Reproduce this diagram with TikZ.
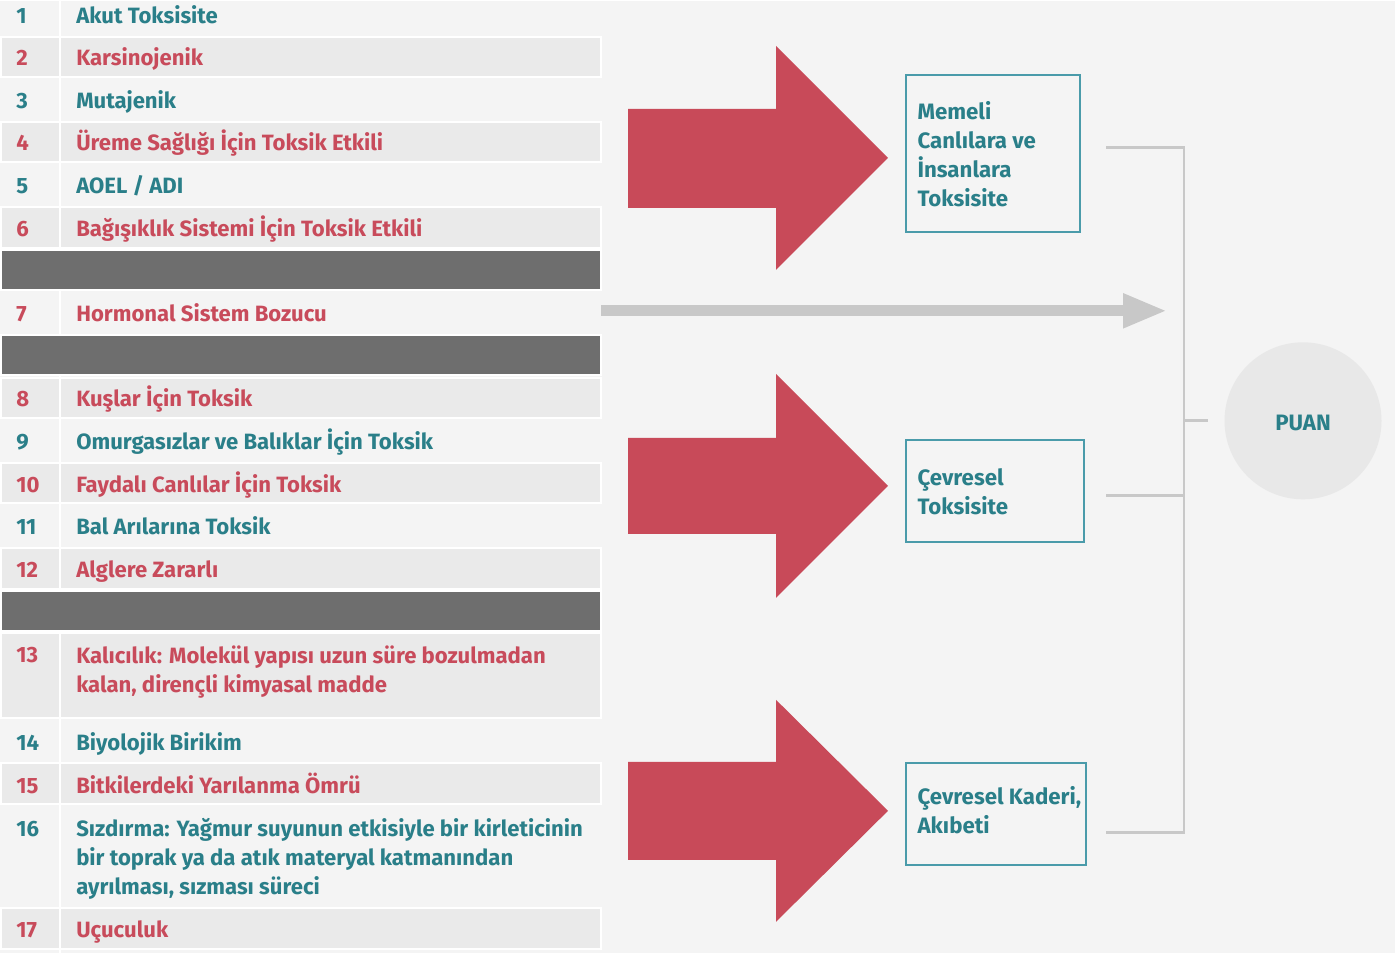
\documentclass[tikz,border=0pt]{standalone}
\usepackage{fontspec}
\usetikzlibrary{arrows.meta,positioning}
\newfontfamily\listfont{Fira Sans}
\definecolor{paper}{HTML}{F4F4F4}
\definecolor{rowgrey}{HTML}{EAEAEA}
\definecolor{rowdark}{HTML}{6E6E6E}
\definecolor{tealtxt}{HTML}{2A7F89}
\definecolor{redtxt}{HTML}{C84B5B}
\definecolor{arrowred}{HTML}{C84A59}
\definecolor{boxline}{HTML}{4A9BAA}
\definecolor{linegrey}{HTML}{C8C8C8}
\definecolor{puangrey}{HTML}{E8E8E8}
\tikzset{
  num/.style={anchor=base west, inner sep=0pt, font=\listfont\bfseries\fontsize{16.6}{21.75}\selectfont},
  item/.style={anchor=base west, inner sep=0pt, align=left, font=\listfont\bfseries\fontsize{16.6}{21.75}\selectfont},
  lightrow/.style={fill=rowgrey, draw=white, line width=1.5pt},
  darkrow/.style={fill=rowdark, draw=white, line width=1.5pt},
  redarrow/.style={fill=arrowred},
  scorebox/.style={draw=boxline, line width=1.1pt, rectangle, inner sep=0pt},
  boxtext/.style={anchor=west, inner sep=0pt, align=left, text=tealtxt, font=\listfont\bfseries\fontsize{16.7}{21.75}\selectfont},
  bracket/.style={draw=linegrey, line width=2.2pt}
}
\begin{document}
\begin{tikzpicture}[x=0.75pt,y=0.75pt,yscale=-1,xscale=1]
%set diagram size
\fill[paper] (0,0) rectangle (1395,952);

%Shape: Rectangle rows
\filldraw[lightrow] (1,36) rectangle (601,76);
\filldraw[lightrow] (1,121) rectangle (601,161);
\filldraw[lightrow] (1,206) rectangle (601,247);
\filldraw[lightrow] (1,377) rectangle (601,417);
\filldraw[lightrow] (1,462) rectangle (601,502);
\filldraw[lightrow] (1,547) rectangle (601,588);
\filldraw[lightrow] (1,632) rectangle (601,717);
\filldraw[lightrow] (1,762) rectangle (601,803);
\filldraw[lightrow] (1,907) rectangle (601,948);
%Straight Lines column
\draw[white, line width=1.2pt] (60,0) -- (60,952);
%Shape: Rectangle separators
\filldraw[darkrow] (1,249) rectangle (601,289);
\filldraw[darkrow] (1,334) rectangle (601,374);
\filldraw[darkrow] (1,590) rectangle (601,630);

% Text Node
\node[num, text=tealtxt] (n1) at (16,23) {1};
\node[item, text=tealtxt] (t1) at (76,23) {Akut Toksisite};
\node[num, text=redtxt] (n2) at (16,65) {2};
\node[item, text=redtxt] (t2) at (76,65) {Karsinojenik};
\node[num, text=tealtxt] (n3) at (16,108) {3};
\node[item, text=tealtxt] (t3) at (76,108) {Mutajenik};
\node[num, text=redtxt] (n4) at (16,150) {4};
\node[item, text=redtxt] (t4) at (76,150) {Üreme Sağlığı İçin Toksik Etkili};
\node[num, text=tealtxt] (n5) at (16,193) {5};
\node[item, text=tealtxt] (t5) at (76,193) {AOEL / ADI};
\node[num, text=redtxt] (n6) at (16,236) {6};
\node[item, text=redtxt] (t6) at (76,236) {Bağışıklık Sistemi İçin Toksik Etkili};
\node[num, text=redtxt] (n7) at (16,321) {7};
\node[item, text=redtxt] (t7) at (76,321) {Hormonal Sistem Bozucu};
\node[num, text=redtxt] (n8) at (16,406) {8};
\node[item, text=redtxt] (t8) at (76,406) {Kuşlar İçin Toksik};
\node[num, text=tealtxt] (n9) at (16,449) {9};
\node[item, text=tealtxt] (t9) at (76,449) {Omurgasızlar ve Balıklar İçin Toksik};
\node[num, text=redtxt] (n10) at (16,492) {10};
\node[item, text=redtxt] (t10) at (76,492) {Faydalı Canlılar İçin Toksik};
\node[num, text=tealtxt] (n11) at (16,534) {11};
\node[item, text=tealtxt] (t11) at (76,534) {Bal Arılarına Toksik};
\node[num, text=redtxt] (n12) at (16,577) {12};
\node[item, text=redtxt] (t12) at (76,577) {Alglere Zararlı};
\node[num, text=redtxt] (n13) at (16,662) {13};
\node[item, text=redtxt] (t13) at (76,692) {Kalıcılık: Molekül yapısı uzun süre bozulmadan\\kalan, dirençli kimyasal madde};
\node[num, text=tealtxt] (n14) at (16,750) {14};
\node[item, text=tealtxt] (t14) at (76,750) {Biyolojik Birikim};
\node[num, text=redtxt] (n15) at (16,793) {15};
\node[item, text=redtxt] (t15) at (76,793) {Bitkilerdeki Yarılanma Ömrü};
\node[num, text=tealtxt] (n16) at (16,836) {16};
\node[item, text=tealtxt] (t16) at (76,894) {Sızdırma: Yağmur suyunun etkisiyle bir kirleticinin\\bir toprak ya da atık materyal katmanından\\ayrılması, sızması süreci};
\node[num, text=redtxt] (n17) at (16,937) {17};
\node[item, text=redtxt] (t17) at (76,937) {Uçuculuk};

%Shape: Right Arrow
\fill[redarrow] (628,108) -- (776,108) -- (776,45) -- (888,157) -- (776,269) -- (776,207) -- (628,207) -- cycle;
\fill[redarrow] (628,437) -- (776,437) -- (776,373) -- (888,485) -- (776,597) -- (776,533) -- (628,533) -- cycle;
\fill[redarrow] (628,761) -- (776,761) -- (776,699) -- (888,810) -- (776,921) -- (776,859) -- (628,859) -- cycle;

%Shape: Rectangle boxes
\node[scorebox, minimum width=130.5pt, minimum height=117.75pt] (box1) at (993,152.5) {};
\node[scorebox, minimum width=133.5pt, minimum height=76.5pt] (box2) at (995,490) {};
\node[scorebox, minimum width=135pt, minimum height=76.5pt] (box3) at (996,813) {};
\node[boxtext] (lab1) at ([xshift=9pt,yshift=0.5pt]box1.west) {Memeli\\Canlılara ve\\İnsanlara\\Toksisite};
\node[boxtext] (lab2) at ([xshift=9pt,yshift=0.75pt]box2.west) {Çevresel\\Toksisite};
\node[boxtext] (lab3) at ([xshift=9pt,yshift=-3pt]box3.west) {Çevresel Kaderi,\\Akıbeti};

%Shape: Circle
\node[circle, fill=puangrey, minimum size=117.75pt, inner sep=0pt] (puan) at (1303,420) {};
\node[boxtext, anchor=center] (puantext) at (1303,422) {PUAN};

%Straight Lines bracket
\coordinate (b1) at (1106,147);
\coordinate (b2) at (1106,495);
\coordinate (b3) at (1106,832);
\coordinate (bmid) at (1184,420);
\draw[bracket] (b1) -- (b1 -| bmid) -- (b3 -| bmid) -- (b3);
\draw[bracket] (b2) -- (b2 -| bmid);
\draw[bracket] (bmid) -- ([xshift=-12pt]puan.west);

%Straight Lines grey arrow
\coordinate (t7end) at (601,310);
\coordinate (brk7) at (1167,310);
\draw[linegrey, line width=8pt, -{Triangle[length=33pt,width=24pt]}] (t7end) -- (brk7);

\end{tikzpicture}
\end{document}
